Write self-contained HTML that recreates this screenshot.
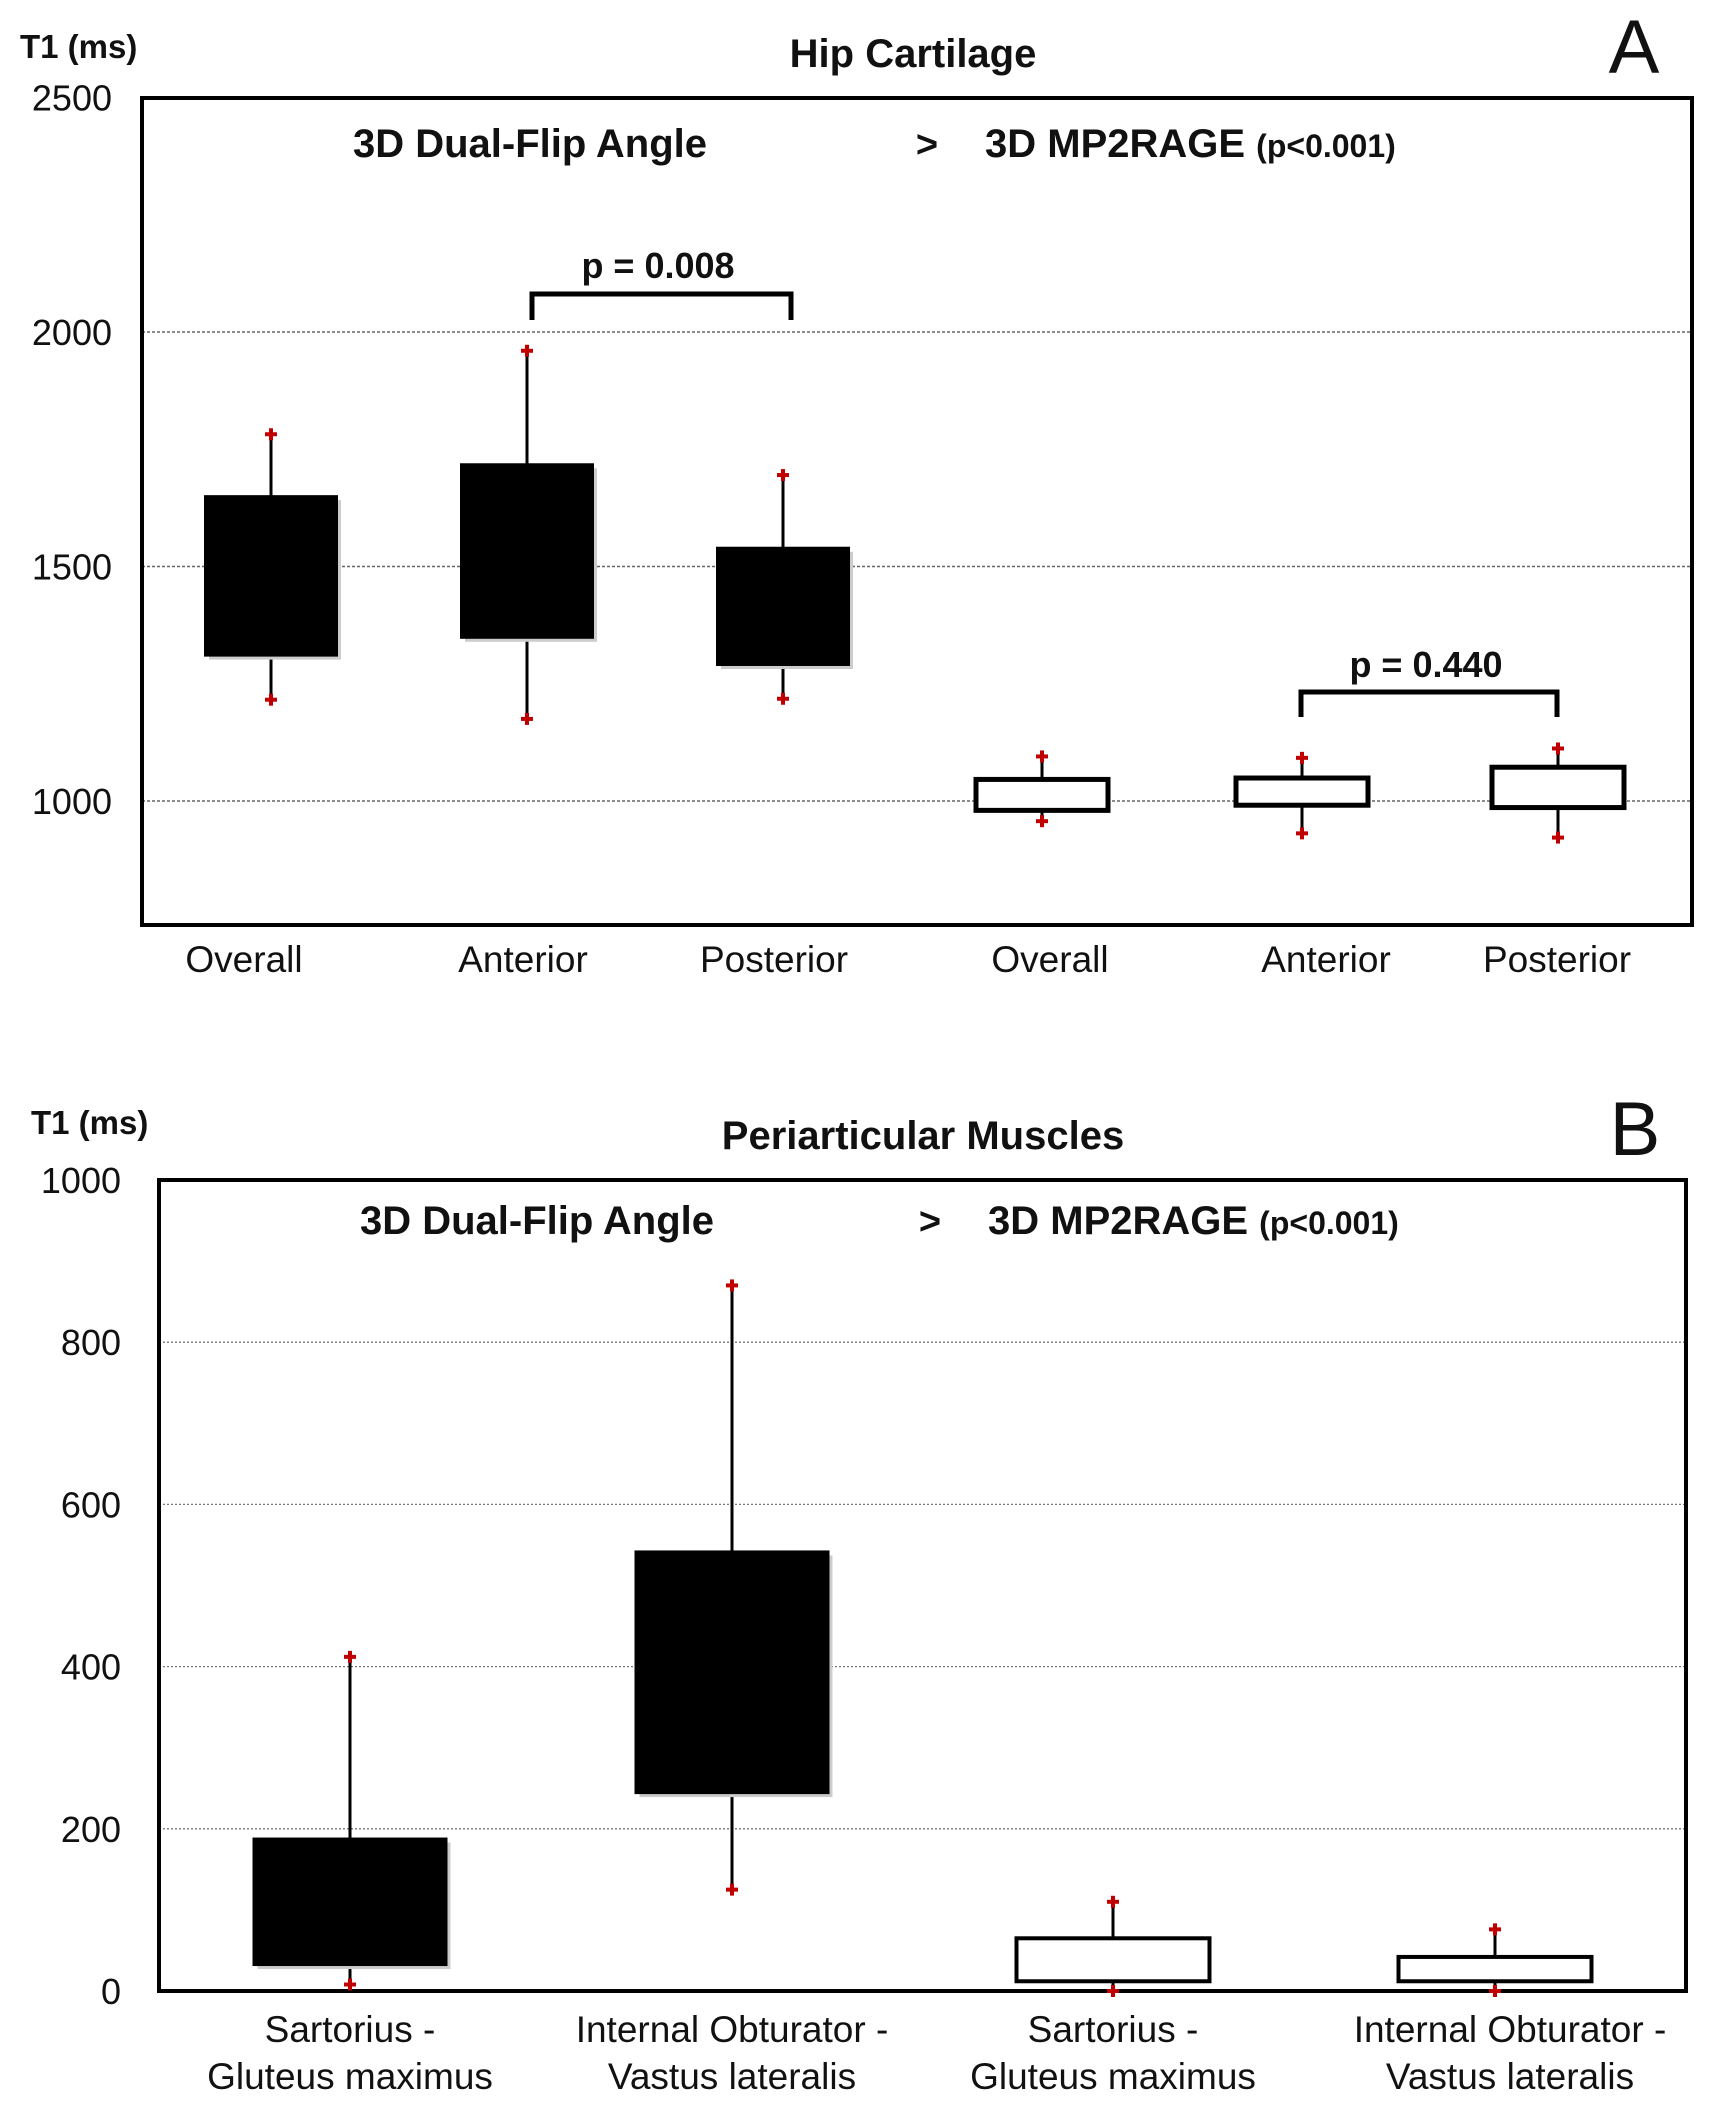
<!DOCTYPE html>
<html><head><meta charset="utf-8"><style>
html,body{margin:0;padding:0;background:#fff;}
svg{display:block;font-family:"Liberation Sans",Arial,sans-serif;}
</style></head><body>
<svg id="fig" width="1712" height="2127" viewBox="0 0 1712 2127" xmlns="http://www.w3.org/2000/svg"></svg>
<script>
// Panel A data
const aCats = ["Overall","Anterior","Posterior","Overall","Anterior","Posterior"];
const aQ3 = [1650,1718,1540,1046,1049,1072];
const aQ1 = [1310,1348,1290,980,991,986];
const aMax = [1782,1960,1695,1095,1092,1112];
const aMin = [1216,1175,1218,957,931,922];
const aFill = ["black","black","black","white","white","white"];
const aTicks = [1000,1500,2000,2500];
// Panel B data
const bCats1 = ["Sartorius  -","Internal  Obturator  -","Sartorius  -","Internal  Obturator  -"];
const bCats2 = ["Gluteus maximus","Vastus lateralis","Gluteus maximus","Vastus lateralis"];
const bQ3 = [188,542,65,42];
const bQ1 = [32,244,12,12];
const bMax = [412,870,110,76];
const bMin = [8,125,0,0];
const bFill = ["black","black","white","white"];
const bTicks = [0,200,400,600,800,1000];

const svg = document.getElementById('fig');
const NS = "http://www.w3.org/2000/svg";
function mk(tag, attrs, parent){
  const e = document.createElementNS(NS, tag);
  for (const k in attrs) e.setAttribute(k, attrs[k]);
  (parent||svg).appendChild(e); return e;
}
function txt(x,y,s,size,weight,anchor,parent){
  const t = mk('text',{x:x,y:y,'font-size':size,'font-weight':weight||'normal','text-anchor':anchor||'middle',fill:'#111'},parent);
  t.textContent = s; return t;
}
function cross(x,y,g){
  mk('line',{x1:x-6,y1:y,x2:x+6,y2:y,stroke:'#c00000','stroke-width':4},g);
  mk('line',{x1:x,y1:y-6,x2:x,y2:y+6,stroke:'#c00000','stroke-width':4},g);
}

// ===== Panel A =====
(function(){
  const L=142,R=1692,T=98,B=925;
  const yA = v => 801 - (v-1000)*234.5/500;
  const xA = i => [271,527,783,1042,1302,1558][i];
  const g = mk('g',{});
  
  
  aTicks.forEach(v=>{
    if(v<2500){
      const l = mk('line',{x1:L,x2:R,y1:yA(v),y2:yA(v),stroke:'#666','stroke-width':1.5,'stroke-dasharray':'3,2'},g);
      
      
    }
    const t = txt(112,yA(v)+13,String(v),36,'normal','end',g);
    
    
  });
  const fr = mk('rect',{x:L,y:T,width:R-L,height:B-T,fill:'none',stroke:'#000','stroke-width':4},g);
  
  
  aCats.forEach((c,i)=>{
    const x = xA(i), w=132;
    const bg = mk('g',{},g);
    
    
    mk('line',{x1:x,x2:x,y1:yA(aMax[i]),y2:yA(aMin[i]),stroke:'#000','stroke-width':3},bg);
    if(aFill[i]==='black') mk('rect',{x:x-w/2+4,y:yA(aQ3[i])+4,width:w,height:yA(aQ1[i])-yA(aQ3[i]),fill:'#ccc'},bg);
    mk('rect',{x:x-w/2,y:yA(aQ3[i]),width:w,height:yA(aQ1[i])-yA(aQ3[i]),fill:aFill[i],stroke:'#000','stroke-width':aFill[i]==='black'?2:5},bg);
    cross(x,yA(aMax[i]),bg); cross(x,yA(aMin[i]),bg);
    const lx=[244,523,774,1050,1326,1557][i];
    const t = txt(lx,972,c,37,'normal','middle',g);
    
    
  });
  const b1 = mk('polyline',{points:'532,320 532,294 791,294 791,320',fill:'none',stroke:'#000','stroke-width':5},g);
  
  
  const p1 = txt(658,278,'p = 0.008',36,'bold','middle',g);
  
  
  const b2 = mk('polyline',{points:'1301,717 1301,692 1557,692 1557,717',fill:'none',stroke:'#000','stroke-width':5},g);
  
  
  const p2 = txt(1426,677,'p = 0.440',36,'bold','middle',g);
  
  
  const h1 = txt(530,157,'3D Dual-Flip Angle',40,'bold','middle',g);
  
  
  const h2 = txt(927,157,'>',38,'bold','middle',g);
  
  
  const h3 = mk('text',{x:985,y:157,'font-size':40,'font-weight':'bold',fill:'#111'},g);
  h3.innerHTML = '3D MP2RAGE <tspan font-size="32">(p&lt;0.001)</tspan>';
  
  
  const ti = txt(913,67,'Hip Cartilage',40,'bold','middle',g);
  
  
  const yl = txt(20,58,'T1 (ms)',33,'bold','start',g);
  
  
  const pl = txt(1634,73,'A',76,'normal','middle',g);
  
  
})();

// ===== Panel B =====
(function(){
  const L=159,R=1686,T=1180,B=1991;
  const yB = v => 1991 - v*0.811;
  const xB = i => [350,732,1113,1495][i];
  const g = mk('g',{});
  
  
  bTicks.forEach(v=>{
    if(v>0 && v<1000){
      const l = mk('line',{x1:L,x2:R,y1:yB(v),y2:yB(v),stroke:'#777','stroke-width':1.3,'stroke-dasharray':'2,2'},g);
      
      
    }
    const t = txt(121,yB(v)+13,String(v),36,'normal','end',g);
    
    
  });
  const fr = mk('rect',{x:L,y:T,width:R-L,height:B-T,fill:'none',stroke:'#000','stroke-width':4},g);
  
  
  bCats1.forEach((c,i)=>{
    const x = xB(i), w=193;
    const bg = mk('g',{},g);
    
    
    mk('line',{x1:x,x2:x,y1:yB(bMax[i]),y2:yB(bMin[i]),stroke:'#000','stroke-width':3},bg);
    if(bFill[i]==='black') mk('rect',{x:x-w/2+4,y:yB(bQ3[i])+4,width:w,height:yB(bQ1[i])-yB(bQ3[i]),fill:'#ccc'},bg);
    mk('rect',{x:x-w/2,y:yB(bQ3[i]),width:w,height:yB(bQ1[i])-yB(bQ3[i]),fill:bFill[i],stroke:'#000','stroke-width':bFill[i]==='black'?2:4},bg);
    cross(x,yB(bMax[i]),bg); cross(x,yB(bMin[i]),bg);
    const lx=[350,732,1113,1510][i];
    const t1 = txt(lx,2042,c,37,'normal','middle',g);
    
    
    const t2 = txt(lx,2089,bCats2[i],37,'normal','middle',g);
    
    
  });
  const h1 = txt(537,1234,'3D Dual-Flip Angle',40,'bold','middle',g);
  
  
  const h2 = txt(930,1234,'>',38,'bold','middle',g);
  
  
  const h3 = mk('text',{x:988,y:1234,'font-size':40,'font-weight':'bold',fill:'#111'},g);
  h3.innerHTML = '3D MP2RAGE <tspan font-size="32">(p&lt;0.001)</tspan>';
  
  
  const ti = txt(923,1149,'Periarticular Muscles',40,'bold','middle',g);
  
  
  const yl = txt(31,1134,'T1 (ms)',33,'bold','start',g);
  
  
  const pl = txt(1635,1155,'B',76,'normal','middle',g);
  
  
})();
</script>
</body></html>
